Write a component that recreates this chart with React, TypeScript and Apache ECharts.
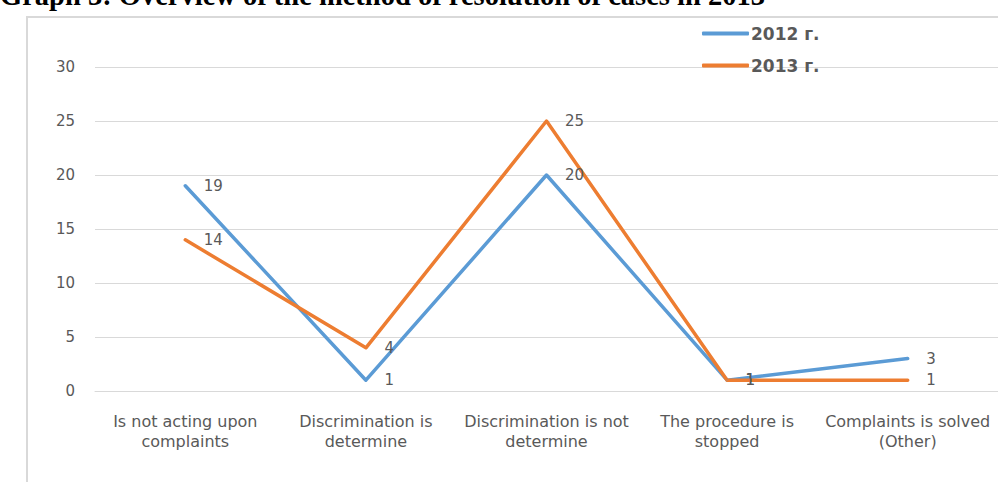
import React, { useEffect, useRef } from "react";
import * as echarts from "echarts";

const categories = [
  "Is not acting upon\ncomplaints",
  "Discrimination is\ndetermine",
  "Discrimination is not\ndetermine",
  "The procedure is\nstopped",
  "Complaints is solved\n(Other)",
];
const seriesNames = ["2012 г.", "2013 г."];
const values2012 = [19, 1, 20, 1, 3];
const values2013 = [14, 4, 25, 1, 1];
const yTicks = { min: 0, max: 30, interval: 5 };
const titleText = "Graph 3: Overview of the method of resolution of cases in 2013";

const FONT = "'DejaVu Sans', 'Noto Sans', sans-serif";
const GREY = "#595959";
const GRID = "#d9d9d9";

export default function App() {
  const ref = useRef<HTMLDivElement>(null);

  useEffect(() => {
    if (!ref.current) return;
    const chart = echarts.init(ref.current, undefined, { renderer: "svg" });

    const lineSeries = (name: string, data: number[], color: string) => ({
      name,
      type: "line",
      data,
      symbol: "circle",
      symbolSize: 1,
      itemStyle: { color },
      lineStyle: { color, width: 3.5, cap: "round", join: "round" },
      label: {
        show: true,
        position: "right",
        distance: 18,
        color: GREY,
        fontSize: 15,
        fontFamily: FONT,
      },
    });

    chart.setOption({
      animation: false,
      backgroundColor: "#ffffff",
      graphic: [
        {
          type: "text",
          left: 0,
          top: -19,
          style: {
            text: titleText,
            fontFamily: "'Liberation Serif', 'DejaVu Serif', serif",
            fontWeight: "bold",
            fontSize: 28.5,
            fill: "#000000",
          },
        },
        {
          type: "polyline",
          shape: { points: [[27, 482], [27, 17], [998, 17]] },
          style: { stroke: GRID, lineWidth: 2, fill: "none" },
        },
      ],
      legend: {
        orient: "vertical",
        left: 697,
        top: 20,
        itemGap: 15,
        itemWidth: 47,
        itemHeight: 4,
        icon: "roundRect",
        textStyle: {
          color: GREY,
          fontSize: 17,
          fontWeight: "bold",
          fontFamily: FONT,
          padding: [0, 0, 0, -3],
        },
        data: seriesNames,
      },
      grid: { left: 95, right: 0, top: 67, bottom: 91, containLabel: false },
      xAxis: {
        type: "category",
        data: categories,
        boundaryGap: true,
        axisLine: { show: true, lineStyle: { color: GRID, width: 1 } },
        axisTick: { show: false },
        axisLabel: {
          color: GREY,
          fontSize: 16,
          fontFamily: FONT,
          margin: 20,
          lineHeight: 20,
          interval: 0,
        },
      },
      yAxis: {
        type: "value",
        min: yTicks.min,
        max: yTicks.max,
        interval: yTicks.interval,
        axisLine: { show: false },
        axisTick: { show: false },
        splitLine: { lineStyle: { color: GRID, width: 1 } },
        axisLabel: { color: GREY, fontSize: 15, fontFamily: FONT, margin: 20 },
      },
      series: [
        lineSeries(seriesNames[0], values2012, "#5B9BD5"),
        lineSeries(seriesNames[1], values2013, "#ED7D31"),
      ],
    });

    return () => chart.dispose();
  }, []);

  return (
    <div
      ref={ref}
      style={{ position: "fixed", left: 0, top: 0, width: 998, height: 482 }}
    />
  );
}
